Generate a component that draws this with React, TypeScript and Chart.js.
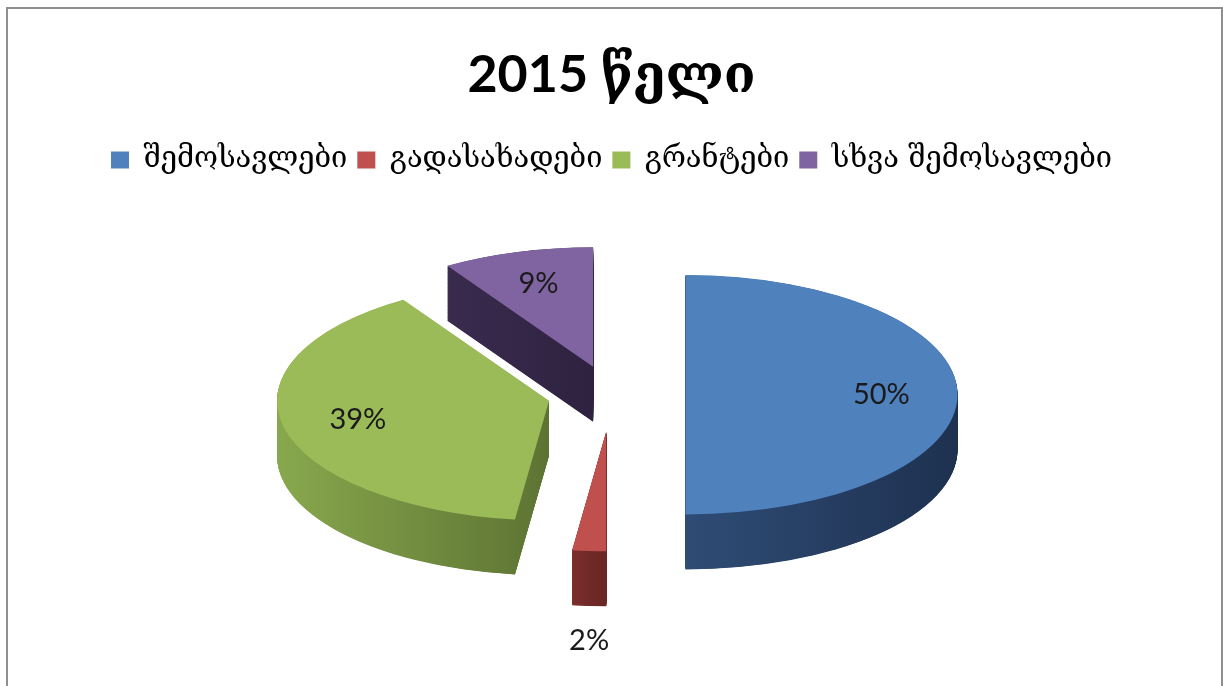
import React, { useEffect, useRef } from 'react';
import { Chart, registerables } from 'chart.js';

Chart.register(...registerables);

const titleText = '2015 წელი';
const categories = ['შემოსავლები', 'გადასახადები', 'გრანტები', 'სხვა შემოსავლები'];
const shares = [50, 2, 39, 9];

const topColors = ['#4F81BD', '#C0504D', '#9BBB59', '#8064A2'];
const sideLight = ['#2F4C75', '#7A2E2C', '#88A84D', '#3A2B4E'];
const sideDark = ['#1E3150', '#692624', '#5D7333', '#2E2240'];
const explode = [74, 84, 64, 66];

const TILT = 0.44;
const DEPTH = 55;
const RADIUS = 272;
const LABEL_FRACTION = 0.72;

export default function App() {
  const ref = useRef<HTMLCanvasElement>(null);

  useEffect(() => {
    document.body.style.margin = '0';
    const canvas = ref.current;
    if (!canvas) return;

    const pie3d = {
      id: 'pie3d',
      beforeDatasetsDraw(chart: any) {
        const meta = chart.getDatasetMeta(0);
        const ctx: CanvasRenderingContext2D = chart.ctx;
        const first = meta.data[0];
        ctx.save();
        ctx.translate(first.x, first.y);
        ctx.scale(1, TILT);
        ctx.translate(-first.x, -first.y);
        meta.data.forEach((arc: any, i: number) => {
          if (arc.__pie3d) return;
          const orig = arc.draw.bind(arc);
          arc.draw = (c: CanvasRenderingContext2D, area: any) => {
            const mid = (arc.startAngle + arc.endAngle) / 2;
            const dx = Math.cos(mid) * explode[i];
            const dy = Math.sin(mid) * explode[i];
            c.save();
            c.translate(dx, dy);
            const path = new Path2D();
            path.moveTo(arc.x, arc.y);
            path.arc(arc.x, arc.y, arc.outerRadius, arc.startAngle, arc.endAngle);
            path.closePath();
            let minX = 0;
            let maxX = 0;
            for (let t = 0; t <= 60; t++) {
              const a = arc.startAngle + ((arc.endAngle - arc.startAngle) * t) / 60;
              minX = Math.min(minX, Math.cos(a));
              maxX = Math.max(maxX, Math.cos(a));
            }
            const g = c.createLinearGradient(
              arc.x + minX * arc.outerRadius, 0,
              arc.x + maxX * arc.outerRadius, 0
            );
            g.addColorStop(0, sideLight[i]);
            g.addColorStop(1, sideDark[i]);
            c.fillStyle = g;
            const depthU = DEPTH / TILT;
            for (let s = depthU; s > 0; s -= 1) {
              c.save();
              c.translate(0, s);
              c.fill(path);
              c.restore();
            }
            orig(c, area);
            c.restore();
          };
          arc.__pie3d = true;
        });
      },
      afterDatasetsDraw(chart: any) {
        const ctx: CanvasRenderingContext2D = chart.ctx;
        ctx.restore();
        const meta = chart.getDatasetMeta(0);
        const total = shares.reduce((a, b) => a + b, 0);
        ctx.save();
        ctx.font = '29px Lato, "Open Sans", sans-serif';
        ctx.fillStyle = '#1a1a1a';
        ctx.textAlign = 'center';
        ctx.textBaseline = 'middle';
        meta.data.forEach((arc: any, i: number) => {
          const mid = (arc.startAngle + arc.endAngle) / 2;
          const ax = arc.x + Math.cos(mid) * explode[i];
          const ay = arc.y + Math.sin(mid) * explode[i];
          const pct = shares[i] / total;
          const small = pct < 0.05;
          const f = small ? 1 : LABEL_FRACTION;
          const ux = ax + Math.cos(mid) * arc.outerRadius * f;
          const uy = ay + Math.sin(mid) * arc.outerRadius * f;
          let sy = arc.y + (uy - arc.y) * TILT;
          if (small) sy += DEPTH + 35;
          ctx.fillText(Math.round(pct * 100) + '%', ux, sy);
        });
        ctx.restore();
      },
    };

    const chart = new Chart(canvas, {
      type: 'pie',
      data: {
        labels: categories,
        datasets: [
          {
            data: shares,
            backgroundColor: topColors,
            borderWidth: 0,
            radius: RADIUS,
            clip: false,
          } as any,
        ],
      },
      options: {
        responsive: false,
        animation: false,
        events: [],
        layout: { padding: { top: 0, bottom: 81, left: 0, right: 0 } },
        plugins: {
          title: {
            display: true,
            text: titleText,
            color: '#000',
            font: { family: 'Lato, "DejaVu Serif", sans-serif', size: 52, weight: 'bold' },
            padding: { top: 44, bottom: 29 },
          },
          legend: {
            position: 'top',
            labels: {
              color: '#000',
              boxWidth: 18,
              boxHeight: 17,
              padding: 10,
              font: { family: '"DejaVu Serif", serif', size: 29 },
            },
          },
          tooltip: { enabled: false },
        },
      } as any,
      plugins: [pie3d],
    });

    return () => chart.destroy();
  }, []);

  return (
    <div style={{ position: 'relative', width: 1223, height: 686, overflow: 'hidden', background: '#fff' }}>
      <canvas
        ref={ref}
        width={1223}
        height={686}
        style={{ position: 'absolute', left: 0, top: 0, display: 'block' }}
      />
      <div
        style={{
          position: 'absolute',
          left: 6,
          top: 7,
          width: 1217,
          height: 720,
          border: '2px solid #8f8f8f',
          boxSizing: 'border-box',
          pointerEvents: 'none',
        }}
      />
    </div>
  );
}
